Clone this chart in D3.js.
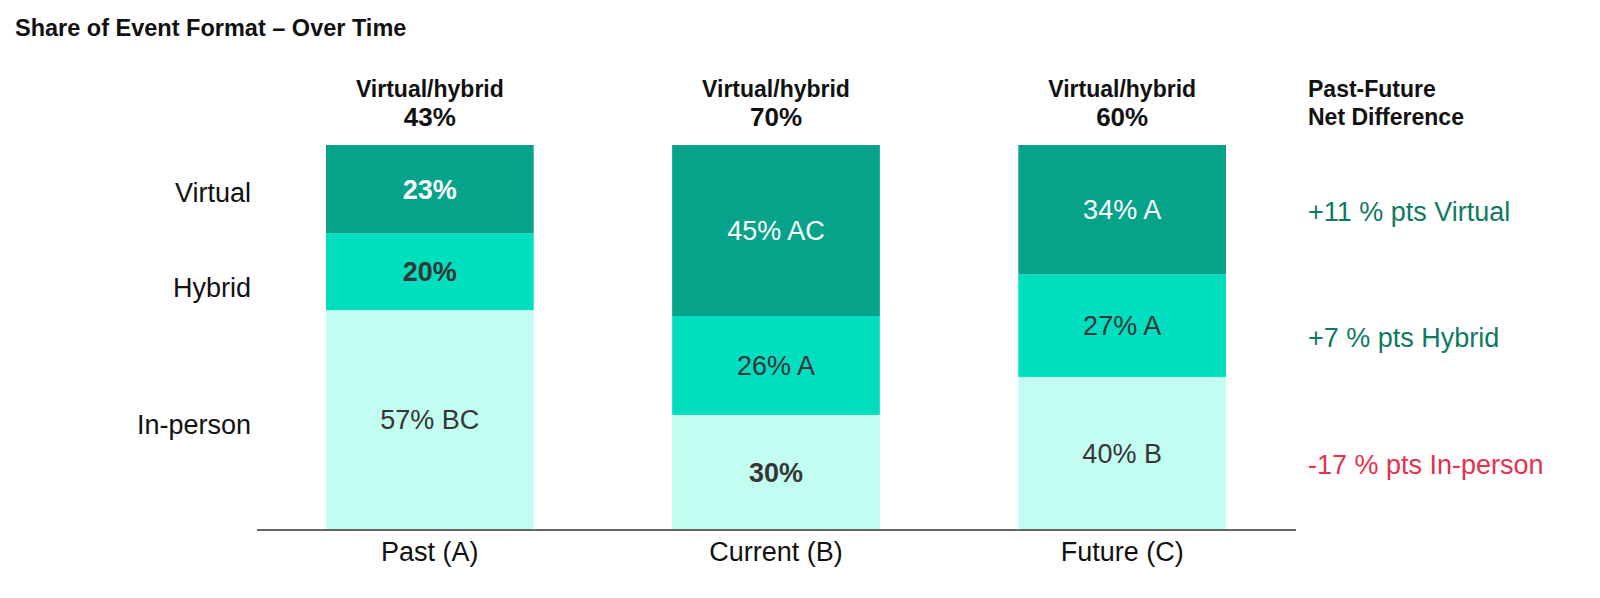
<!DOCTYPE html>
<html>
<head>
<meta charset="utf-8">
<script src="https://cdn.jsdelivr.net/npm/d3@7"></script>
<style>
  html, body { margin: 0; padding: 0; background: #fff; }
  svg { display: block; font-family: "Liberation Sans", Arial, sans-serif; }
</style>
</head>
<body>
<div id="chart"></div>
<script>
'use strict';

// ---- data
var periods = ['Past (A)', 'Current (B)', 'Future (C)'];
var formats = ['inperson', 'hybrid', 'virtual'];
var formatNames = ['In-person', 'Hybrid', 'Virtual'];
var virtualVals = [23, 45, 34];
var hybridVals = [20, 26, 27];
var inpersonVals = [57, 30, 40];
var virtualSig = ['', 'AC', 'A'];
var hybridSig = ['', 'A', 'A'];
var inpersonSig = ['BC', '', 'B'];
var combinedVals = [43, 70, 60];
var netDiff = ['+11 % pts Virtual', '+7 % pts Hybrid', '-17 % pts In-person'];

var width = 1600, height = 598;
var colors = { virtual: '#05a38a', hybrid: '#00dec0', inperson: '#c3fdf1' };
var textColors = { virtual: '#ffffff', hybrid: '#363636', inperson: '#363636' };
var sigs = { virtual: virtualSig, hybrid: hybridSig, inperson: inpersonSig };

var rows = periods.map(function(p, i) {
    return { period: p, virtual: virtualVals[i], hybrid: hybridVals[i], inperson: inpersonVals[i] };
});

var svg = d3.select('#chart').append('svg')
    .attr('width', width)
    .attr('height', height);

var x = d3.scaleBand().domain(periods).range([326, 1226]).paddingInner(0.4).paddingOuter(0);
var y = d3.scaleLinear().domain([0, 1]).range([529, 145]);

// each bar is normalised to its own total (two of them add up to 101)
var series = d3.stack().keys(formats).offset(d3.stackOffsetExpand)(rows);

// title
svg.append('text')
    .attr('x', 15).attr('y', 36)
    .attr('font-size', '23.5px').attr('font-weight', 'bold')
    .attr('fill', '#111')
    .text('Share of Event Format \u2013 Over Time');

// bars
var layers = svg.selectAll('g.layer').data(series).enter()
    .append('g').attr('class', 'layer');

layers.selectAll('rect').data(function(d) { return d.map(function(v) { v.key = d.key; return v; }); })
    .enter().append('rect')
    .attr('x', function(d) { return x(d.data.period); })
    .attr('width', x.bandwidth())
    .attr('y', function(d) { return y(d[1]); })
    .attr('height', function(d) { return y(d[0]) - y(d[1]); })
    .attr('fill', function(d) { return colors[d.key]; });

layers.selectAll('text').data(function(d) { return d; })
    .enter().append('text')
    .attr('x', function(d) { return x(d.data.period) + x.bandwidth() / 2; })
    .attr('y', function(d) { return (y(d[0]) + y(d[1])) / 2; })
    .attr('dy', '0.36em')
    .attr('text-anchor', 'middle')
    .attr('font-size', '27px')
    .attr('fill', function(d) { return textColors[d.key]; })
    .attr('font-weight', function(d, i) { return sigs[d.key][i] ? 'normal' : 'bold'; })
    .text(function(d, i) {
        var s = sigs[d.key][i];
        return d.data[d.key] + '%' + (s ? ' ' + s : '');
    });

// baseline
svg.append('line')
    .attr('x1', 257).attr('x2', 1296)
    .attr('y1', 530).attr('y2', 530)
    .attr('stroke', '#666').attr('stroke-width', 2);

// x axis labels
var xAxis = svg.append('g')
    .attr('transform', 'translate(0,531)')
    .call(d3.axisBottom(x).tickSize(0).tickPadding(11));
xAxis.select('.domain').remove();
xAxis.selectAll('text')
    .attr('font-size', '27px')
    .attr('font-family', '"Liberation Sans", Arial, sans-serif')
    .attr('fill', '#111');

// headers above bars
var heads = svg.selectAll('g.head').data(periods).enter().append('g')
    .attr('class', 'head')
    .attr('transform', function(d) { return 'translate(' + (x(d) + x.bandwidth() / 2) + ',0)'; });
heads.append('text')
    .attr('y', 97).attr('text-anchor', 'middle')
    .attr('font-size', '23px').attr('font-weight', 'bold').attr('fill', '#111')
    .text('Virtual/hybrid');
heads.append('text')
    .attr('y', 126).attr('text-anchor', 'middle')
    .attr('font-size', '26px').attr('font-weight', 'bold').attr('fill', '#111')
    .text(function(d, i) { return combinedVals[i] + '%'; });

// left labels
var leftY = [424, 287, 192];
svg.selectAll('text.left').data(formatNames).enter().append('text')
    .attr('class', 'left')
    .attr('x', 251)
    .attr('y', function(d, i) { return leftY[i]; })
    .attr('dy', '0.36em')
    .attr('text-anchor', 'end')
    .attr('font-size', '27px').attr('fill', '#111')
    .text(function(d) { return d; });

// right column
svg.append('text')
    .attr('x', 1308).attr('y', 97)
    .attr('font-size', '23px').attr('font-weight', 'bold').attr('fill', '#111')
    .text('Past-Future');
svg.append('text')
    .attr('x', 1308).attr('y', 125)
    .attr('font-size', '23px').attr('font-weight', 'bold').attr('fill', '#111')
    .text('Net Difference');

var rightY = [211, 337, 464];
svg.selectAll('text.net').data(netDiff).enter().append('text')
    .attr('class', 'net')
    .attr('x', 1308)
    .attr('y', function(d, i) { return rightY[i]; })
    .attr('dy', '0.36em')
    .attr('font-size', '27px')
    .attr('fill', function(d) { return d.charAt(0) === '-' ? '#e5304f' : '#0e7a62'; })
    .text(function(d) { return d; });
</script>
</body>
</html>
